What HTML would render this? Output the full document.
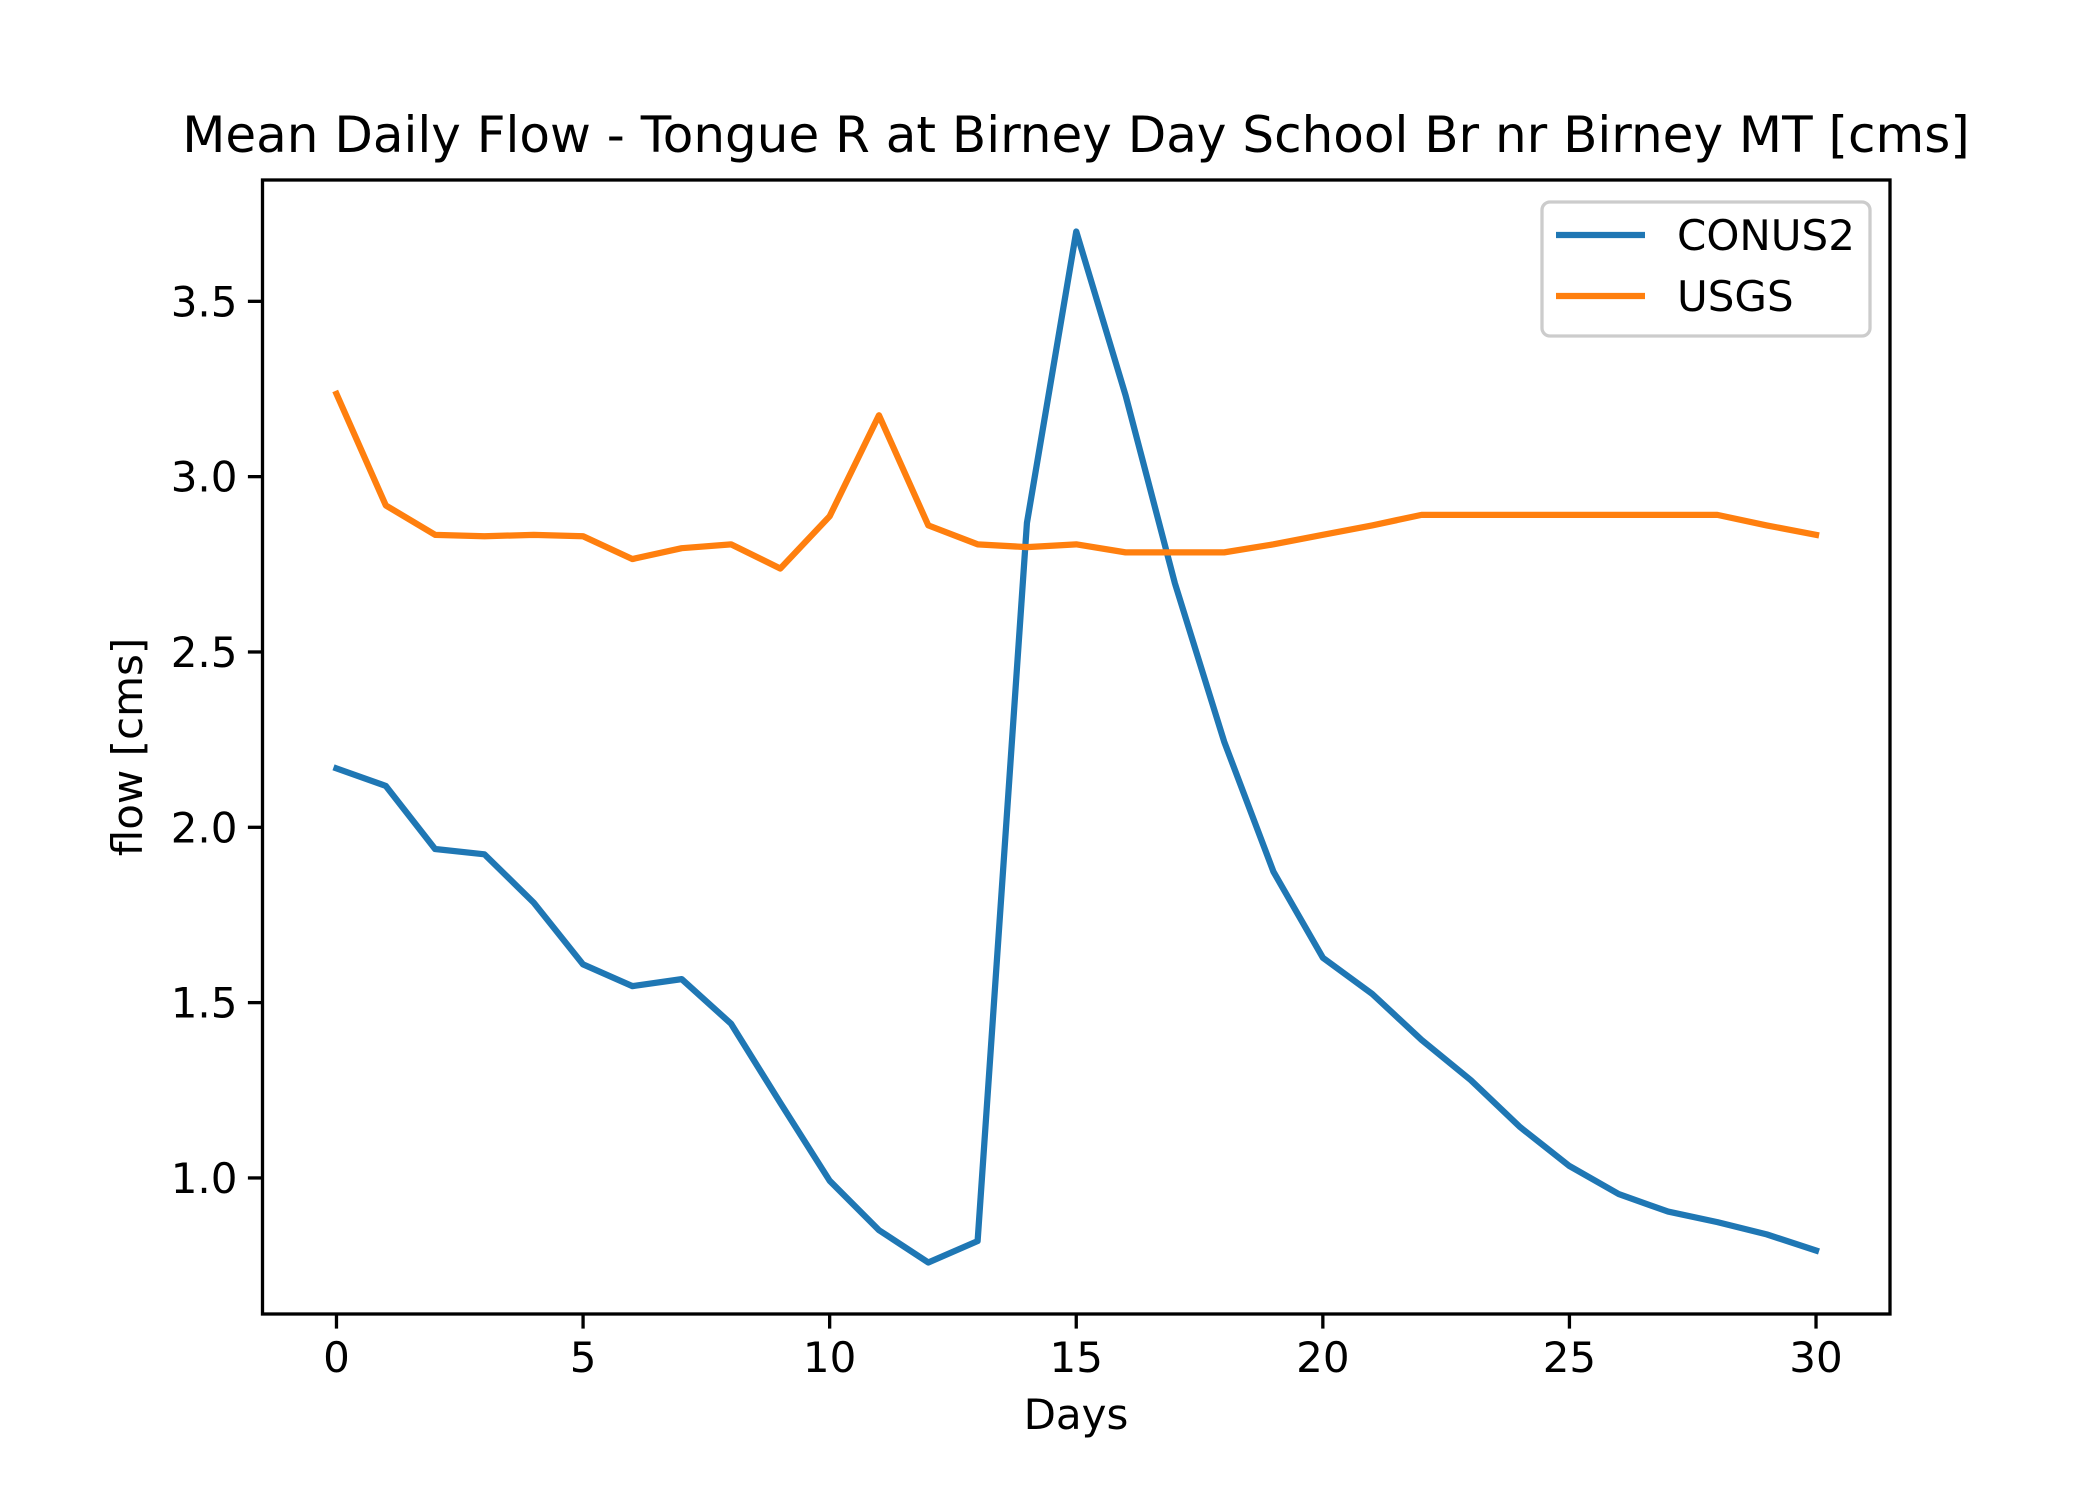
<!DOCTYPE html>
<html><head><meta charset="utf-8"><style>
html,body{margin:0;padding:0;background:#fff;}
svg{display:block;font-family:"DejaVu Sans","Liberation Sans",sans-serif;}
</style></head><body>
<svg id="chart" width="2100" height="1500" viewBox="0 0 2100 1500" xmlns="http://www.w3.org/2000/svg">
<rect width="2100" height="1500" fill="#fff"/>
<text x="1076" y="152" font-size="50" text-anchor="middle" fill="#000">Mean Daily Flow - Tongue R at Birney Day School Br nr Birney MT [cms]</text>
<text x="1076" y="1429" font-size="42" text-anchor="middle" fill="#000">Days</text>
<text transform="translate(142,747) rotate(-90)" font-size="42" text-anchor="middle" fill="#000">flow [cms]</text>
<g id="marks"></g>
<rect x="262.5" y="180" width="1627.5" height="1134" fill="none" stroke="#000" stroke-width="3.3"/>
<g>
<rect x="1542" y="202" width="328" height="134" rx="8" fill="#fff" fill-opacity="0.8" stroke="#ccc" stroke-width="3.3"/>
<line x1="1556" y1="235" x2="1645" y2="235" stroke="#1f77b4" stroke-width="6.25"/>
<text x="1677" y="250" font-size="42">CONUS2</text>
<line x1="1556" y1="296" x2="1645" y2="296" stroke="#ff7f0e" stroke-width="6.25"/>
<text x="1677" y="311" font-size="42">USGS</text>
</g>
</svg>
<script>
const days = [0,1,2,3,4,5,6,7,8,9,10,11,12,13,14,15,16,17,18,19,20,21,22,23,24,25,26,27,28,29,30];
const conus2 = [2.168,2.118,1.938,1.923,1.785,1.609,1.547,1.567,1.440,1.214,0.992,0.851,0.759,0.820,2.868,3.699,3.232,2.696,2.244,1.873,1.628,1.525,1.394,1.279,1.145,1.034,0.954,0.904,0.874,0.839,0.793];
const usgs = [3.236,2.918,2.834,2.830,2.834,2.830,2.765,2.796,2.807,2.738,2.887,3.175,2.861,2.807,2.799,2.807,2.784,2.784,2.784,2.807,2.834,2.861,2.891,2.891,2.891,2.891,2.891,2.891,2.891,2.861,2.834];
const xTicks = [0,5,10,15,20,25,30];
const yTicks = [1.0,1.5,2.0,2.5,3.0,3.5];
const yTickLabels = ["1.0","1.5","2.0","2.5","3.0","3.5"];

const L=262.5,R=1890,T=180,B=1314;
const allY = conus2.concat(usgs);
const ymin=Math.min(...allY), ymax=Math.max(...allY), yp=(ymax-ymin)*0.05;
const xmin=Math.min(...days), xmax=Math.max(...days), xp=(xmax-xmin)*0.05;
function sx(v){return L+(v-(xmin-xp))/((xmax+xp)-(xmin-xp))*(R-L);}
function sy(v){return B-(v-(ymin-yp))/((ymax+yp)-(ymin-yp))*(B-T);}
const NS="http://www.w3.org/2000/svg";
const g=document.getElementById('marks');
function mk(tag,attrs){const e=document.createElementNS(NS,tag);for(const k in attrs)e.setAttribute(k,attrs[k]);g.appendChild(e);return e;}
xTicks.forEach(t=>{
  const l=mk('line',{x1:sx(t),x2:sx(t),y1:B,y2:B+14.6,stroke:'#000','stroke-width':3.3});
  
  
  const tx=mk('text',{x:sx(t),y:B+58,'font-size':42,'text-anchor':'middle'});
  tx.textContent=t;
  
  
});
yTicks.forEach((t,i)=>{
  const l=mk('line',{x1:L-14.6,x2:L,y1:sy(t),y2:sy(t),stroke:'#000','stroke-width':3.3});
  
  
  const tx=mk('text',{x:L-25,y:sy(t)+15,'font-size':42,'text-anchor':'end'});
  tx.textContent=yTickLabels[i];
  
  
});
function line(vals,color,name){
  const p=mk('polyline',{points:vals.map((v,i)=>sx(days[i])+','+sy(v)).join(' '),fill:'none',stroke:color,'stroke-width':6.25,'stroke-linejoin':'round','stroke-linecap':'square'});
  
  
}
line(conus2,'#1f77b4','conus2-line');
line(usgs,'#ff7f0e','usgs-line');
</script>
</body></html>
